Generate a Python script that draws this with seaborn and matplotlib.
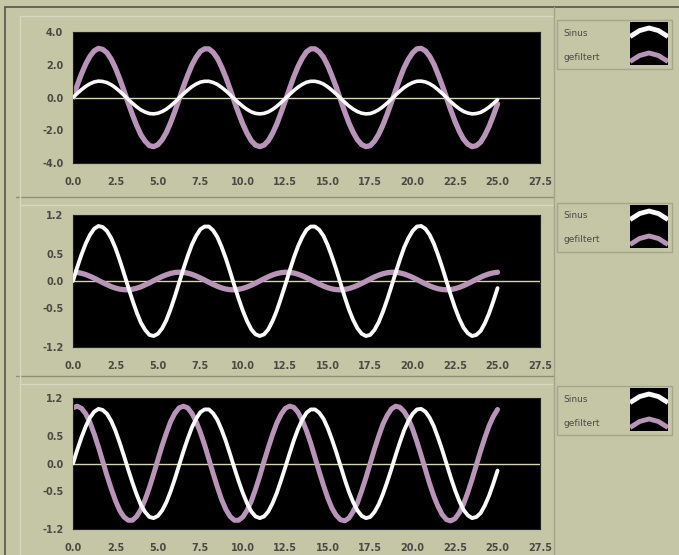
import numpy as np
import matplotlib
matplotlib.use('Agg')
import matplotlib.pyplot as plt
from matplotlib.patches import Rectangle
from matplotlib.lines import Line2D
import seaborn as sns

# ---------------- data ----------------
x_step = 0.25  # sampling step of the waveforms, x from 0 to 25
# "Sinus" (same in all three graphs), values in hundredths
sinus_c = [0, 25, 48, 68, 84, 95, 100, 98, 91, 78,
           60, 38, 14, -11, -35, -57, -76, -89, -98, -100,
           -96, -86, -71, -51, -28, -3, 22, 45, 66, 82,
           94, 99, 99, 92, 80, 62, 41, 17, -8, -32,
           -54, -73, -88, -97, -100, -97, -88, -73, -54, -31,
           -7, 18, 42, 63, 80, 93, 99, 99, 93, 82,
           65, 44, 21, -4, -29, -52, -71, -86, -96, -100,
           -98, -89, -75, -56, -34, -10, 15, 39, 61, 78,
           91, 99, 100, 95, 84, 68, 47, 24, -1, -26,
           -49, -69, -85, -95, -100, -98, -91, -77, -59, -37,
           -13]
# "gefiltert" graph 1, hundredths
gef1_c = [0, 75, 144, 204, 252, 285, 300, 294, 273, 234,
          180, 114, 42, -33, -105, -171, -228, -267, -294, -300,
          -288, -258, -213, -153, -84, -9, 66, 135, 198, 246,
          282, 297, 297, 276, 240, 186, 123, 51, -24, -96,
          -162, -219, -264, -291, -300, -291, -264, -219, -162, -93,
          -21, 54, 126, 189, 240, 279, 297, 297, 279, 246,
          195, 132, 63, -12, -87, -156, -213, -258, -288, -300,
          -294, -267, -225, -168, -102, -30, 45, 117, 183, 234,
          273, 297, 300, 285, 252, 204, 141, 72, -3, -78,
          -147, -207, -255, -285, -300, -294, -273, -231, -177, -111,
          -39]
# "gefiltert" graph 2, thousandths
gef2_m = [160, 155, 140, 117, 86, 50, 11, -29, -67, -101,
          -128, -148, -158, -159, -150, -131, -105, -71, -34, 6,
          45, 82, 113, 138, 154, 160, 156, 143, 121, 91,
          55, 17, -23, -62, -96, -125, -146, -158, -160, -152,
          -134, -109, -76, -39, 1, 40, 77, 110, 135, 152,
          160, 157, 145, 124, 95, 60, 22, -18, -57, -92,
          -122, -144, -157, -160, -153, -137, -112, -81, -44, -5,
          35, 73, 106, 132, 150, 159, 158, 147, 127, 99,
          65, 27, -13, -52, -88, -118, -141, -155, -160, -155,
          -140, -116, -85, -49, -10, 30, 68, 102, 129, 148,
          159]
# "gefiltert" graph 3, hundredths
gef3_c = [102, 105, 101, 91, 75, 54, 30, 4, -22, -46,
          -68, -86, -98, -104, -104, -97, -84, -66, -44, -19,
          7, 33, 56, 77, 92, 102, 105, 102, 92, 77,
          57, 34, 8, -18, -43, -66, -84, -97, -104, -104,
          -98, -86, -69, -47, -23, 4, 29, 53, 74, 90,
          101, 105, 103, 94, 79, 60, 37, 11, -15, -40,
          -63, -82, -95, -103, -105, -100, -88, -72, -50, -26,
          0, 26, 50, 72, 88, 100, 105, 103, 95, 82,
          63, 40, 15, -11, -37, -60, -79, -94, -103, -105,
          -101, -90, -74, -53, -29, -3, 23, 47, 69, 86,
          99]

legend_labels = ['Sinus', 'gefiltert']
x_ticks = [0, 2.5, 5, 7.5, 10, 12.5, 15, 17.5, 20, 22.5, 25, 27.5]
x_ticklabels = ['0.0', '2.5', '5.0', '7.5', '10.0', '12.5', '15.0', '17.5', '20.0', '22.5', '25.0', '27.5']
y_ticks_1 = [-4, -2, 0, 2, 4]
y_ticklabels_1 = ['-4.0', '-2.0', '0.0', '2.0', '4.0']
y_ticks_23 = [-1.2, -0.5, 0, 0.5, 1.2]
y_ticklabels_23 = ['-1.2', '-0.5', '0.0', '0.5', '1.2']

# ---------------- drawing ----------------
sns.set_style('white')
plt.rcParams['font.family'] = ['DejaVu Sans']

x = np.arange(len(sinus_c)) * x_step
sinus = np.array(sinus_c) / 100.0
gef1 = np.array(gef1_c) / 100.0
gef2 = np.array(gef2_m) / 1000.0
gef3 = np.array(gef3_c) / 100.0

BG = '#c4c6a6'
PURPLE = '#b994b9'
WHITE = '#fafafa'
TXT = '#4a4a44'

W, H = 679, 555
fig = plt.figure(figsize=(W / 100, H / 100), dpi=100)
fig.patch.set_facecolor(BG)


def fx(px):
    return px / W


def fy(py):
    return 1 - py / H


def hline(y, x0, x1, color, lw=1.0):
    fig.add_artist(Line2D([fx(x0), fx(x1)], [fy(y), fy(y)], transform=fig.transFigure, color=color, lw=lw))


def vline(xp, y0, y1, color, lw=1.0):
    fig.add_artist(Line2D([fx(xp), fx(xp)], [fy(y0), fy(y1)], transform=fig.transFigure, color=color, lw=lw))


# frame / bevel lines like the instrument panel
hline(7, 5, 679, '#55554a', 1.2)
vline(5, 7, 555, '#55554a', 1.2)
for yb in (197, 376):
    hline(yb, 16, 554, '#8e907a', 1.0)
    hline(yb + 8, 20, 554, '#d6d8c2', 1.0)
hline(16, 20, 554, '#d6d8c2', 1.0)
vline(20, 16, 555, '#d6d8c2', 1.0)
vline(554, 7, 555, '#a2a48c', 1.0)

panels = [
    dict(top=32, bot=163, ylim=(-4, 4), yt=y_ticks_1, yl=y_ticklabels_1, g=gef1, lw_g=3.8, lw_s=2.6),
    dict(top=215, bot=347, ylim=(-1.2, 1.2), yt=y_ticks_23, yl=y_ticklabels_23, g=gef2, lw_g=3.8, lw_s=2.8),
    dict(top=398, bot=529, ylim=(-1.2, 1.2), yt=y_ticks_23, yl=y_ticklabels_23, g=gef3, lw_g=3.6, lw_s=2.8),
]

left, right = 73, 540
for p in panels:
    ax = fig.add_axes([fx(left), fy(p['bot']), fx(right - left), (p['bot'] - p['top']) / H])
    ax.set_facecolor('black')
    ax.axhline(0, color='#d6d6b0', lw=1.0, zorder=1)
    sns.lineplot(x=x, y=p['g'], ax=ax, color=PURPLE, lw=p['lw_g'], zorder=2)
    sns.lineplot(x=x, y=sinus, ax=ax, color=WHITE, lw=p['lw_s'], zorder=3)
    ax.set_xlim(0, 27.5)
    ax.set_ylim(*p['ylim'])
    ax.set_xticks(x_ticks)
    ax.set_xticklabels(x_ticklabels)
    ax.set_yticks(p['yt'])
    ax.set_yticklabels(p['yl'])
    ax.tick_params(axis='both', direction='out', length=4, width=0.8, color='#707068',
                   labelsize=7, labelcolor=TXT, pad=3)
    ax.tick_params(axis='x', pad=6)
    for lab in ax.get_xticklabels() + ax.get_yticklabels():
        lab.set_fontweight('bold')
    for s in ax.spines.values():
        s.set_color('#202020')
        s.set_linewidth(0.8)
    ax.set_xlabel('')
    ax.set_ylabel('')

    # legend
    top = p['top']
    fig.add_artist(Rectangle((fx(557), fy(top + 37)), fx(115), 49 / H, transform=fig.transFigure,
                             facecolor='none', edgecolor='#a4a68c', lw=1.0))
    fig.text(fx(563), fy(top + 1), legend_labels[0], fontsize=6.5, color=TXT, va='center')
    fig.text(fx(563), fy(top + 25), legend_labels[1], fontsize=6.5, color=TXT, va='center')
    lax = fig.add_axes([fx(630), fy(top + 33), fx(38), 43 / H])
    lax.set_facecolor('black')
    lax.plot([0, 0.25, 0.5, 0.75, 1], [0.66, 0.8, 0.86, 0.8, 0.66], color=WHITE, lw=3.5,
             solid_capstyle='butt')
    lax.plot([0, 0.25, 0.5, 0.75, 1], [0.08, 0.22, 0.28, 0.22, 0.08], color=PURPLE, lw=3.5,
             solid_capstyle='butt')
    lax.set_xlim(0, 1)
    lax.set_ylim(0, 1)
    lax.set_xticks([])
    lax.set_yticks([])
    for s in lax.spines.values():
        s.set_visible(False)

fig.savefig('out.png', dpi=100, facecolor=BG)
